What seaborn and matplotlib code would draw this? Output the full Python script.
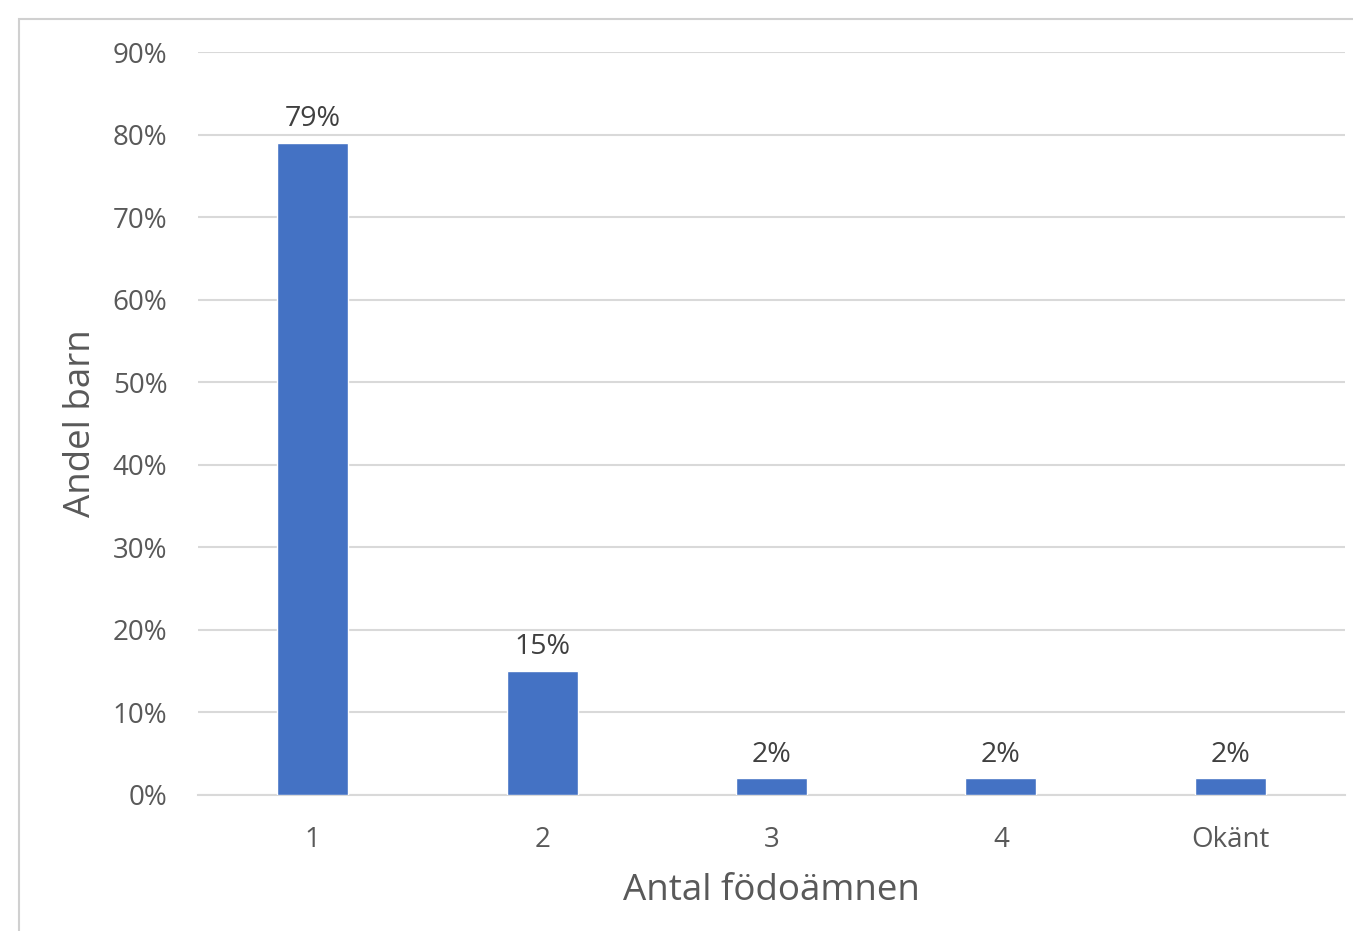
import matplotlib
matplotlib.use("Agg")
import matplotlib.pyplot as plt
from matplotlib.patches import Rectangle
import seaborn as sns
import pandas as pd

# Andel barn per antal födoämnen
categories = ["1", "2", "3", "4", "Okänt"]
shares = [79, 15, 2, 2, 2]
label_texts = ["79%", "15%", "2%", "2%", "2%"]
yticks = [0, 10, 20, 30, 40, 50, 60, 70, 80, 90]

sns.set_theme(style="white")
plt.rcParams["font.family"] = ["Open Sans", "DejaVu Sans"]

df = pd.DataFrame({"Antal": categories, "Andel": shares})

fig = plt.figure(figsize=(13.53, 9.31), dpi=100)
ax = fig.add_axes([0.1463, 0.1461, 0.8478, 0.798])

sns.barplot(data=df, x="Antal", y="Andel", color="#4472C4", width=0.31,
            saturation=1, ax=ax, zorder=3)

ax.set_ylim(0, 90)
ax.set_xlim(-0.5, len(categories) - 0.5)
ax.set_yticks(yticks)
ax.set_yticklabels([f"{t}%" for t in yticks])
ax.yaxis.grid(True, color="#D9D9D9", linewidth=1.5, zorder=0)
ax.xaxis.grid(False)
for s in ["top", "right", "left"]:
    ax.spines[s].set_visible(False)
ax.spines["bottom"].set_color("#D9D9D9")
ax.spines["bottom"].set_linewidth(1.5)
ax.tick_params(axis="both", length=0, labelsize=20, colors="#595959")
ax.tick_params(axis="y", pad=22)
ax.tick_params(axis="x", pad=22)

for i, (v, t) in enumerate(zip(shares, label_texts)):
    ax.annotate(t, (i, v), xytext=(0, 7), textcoords="offset points",
                ha="center", va="bottom", fontsize=20.5, color="#404040")

ax.set_xlabel("Antal födoämnen", fontsize=26.5, color="#595959", labelpad=14)
ax.set_ylabel("Andel barn", fontsize=26.5, color="#595959", labelpad=10)

# outer chart frame
fig.patches.append(Rectangle((19 / 1353, -0.1), 1.2, 1 - 19 / 931 + 0.1,
                             transform=fig.transFigure, fill=False,
                             edgecolor="#D0D0D0", linewidth=1.5))

fig.savefig("out.png", dpi=100)
